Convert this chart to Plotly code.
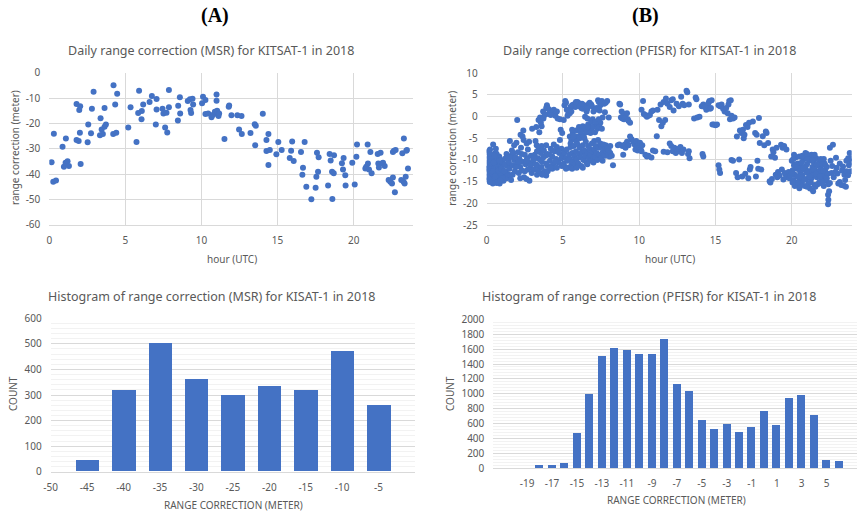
import plotly.graph_objects as go

# ---------------- data ----------------
# MSR daily range correction: (hour UTC, correction m)
msr_points = [
    (0.15,-35.3),(0.3,-24.1),(0.26,-43),(0.44,-42.6),(0.87,-29.2),(0.96,-37.1),(1.07,-35.5),(1.09,-26),
    (1.2,-35),(1.29,-36.8),(1.79,-26.6),(1.79,-12.4),(1.93,-27),(1.97,-14.7),(2.03,-13.2),(2.06,-36),
    (2.01,-23.7),(2.52,-27.5),(2.56,-20.4),(2.8,-14.2),(2.74,-23.9),(2.91,-7.5),(3.37,-18),(3.33,-24.7),
    (3.44,-22.4),(3.52,-24.2),(3.63,-13.9),(3.63,-21.3),(3.72,-20.4),(4.22,-5),(4.33,-12.6),(4.2,-24.2),
    (4.4,-23.7),(4.46,-8.3),(5.19,-21.6),(5.34,-13.6),(5.73,-27.4),(5.84,-15.9),(5.9,-7.1),(6.06,-18.4),
    (6.08,-15.1),(6.17,-12.6),(6.59,-11.6),(6.74,-9.2),(7.0,-20.4),(7.05,-14.5),(7.05,-10.4),(7.44,-14.2),
    (7.5,-16.1),(7.61,-21.6),(7.7,-15.8),(7.75,-23.6),(7.86,-6.8),(7.86,-13.6),(8.45,-18.9),(8.47,-13),
    (8.58,-9.7),(8.6,-16.1),(9.1,-11.2),(9.24,-10.5),(9.28,-14.7),(9.32,-15.9),(9.41,-10.3),(9.45,-12.6),
    (10.04,-12.1),(10.1,-9.5),(10.26,-10.8),(10.26,-16.3),(10.44,-16.1),(10.66,-17.6),(10.77,-16.6),
    (10.88,-15.4),(10.99,-8.6),(10.99,-11.1),(11.03,-15),(11.12,-17.1),(11.16,-16.1),(11.51,-26.2),
    (11.79,-13.4),(11.82,-12.9),(11.97,-16.8),(12.36,-16.8),(12.47,-22.4),(12.63,-17.1),(12.65,-24.2),
    (13.22,-23.8),(13.5,-20.3),(13.53,-28.6),(13.57,-20.9),(14.03,-16.2),(14.27,-26.6),(14.27,-30.9),
    (14.4,-24.2),(14.4,-36.4),(14.49,-30.5),(14.92,-32.2),(15.05,-27.4),(15.27,-30.5),(15.8,-33.7),
    (15.89,-30.8),(15.96,-27.2),(16.06,-34.9),(16.54,-31.3),(16.63,-40.3),(16.67,-37.5),(16.78,-27.4),
    (16.89,-45),(17.22,-50),(17.5,-45.4),(17.55,-41.1),(17.59,-31.6),(17.66,-39.1),(17.7,-33.4),
    (18.32,-44.5),(18.42,-32.1),(18.49,-34.7),(18.58,-39.1),(18.6,-49.9),(18.69,-39.7),(18.71,-32.6),
    (19.23,-35.7),(19.3,-38.2),(19.34,-33.7),(19.45,-40.5),(19.47,-44.5),(19.91,-35.5),(20.07,-44.1),
    (20.18,-33.2),(20.22,-28.3),(20.77,-37.8),(20.83,-37.1),(20.92,-28.3),(20.94,-35.8),(21.01,-38.2),
    (21.1,-31.3),(21.18,-39.7),(21.58,-32.1),(21.62,-35.8),(21.66,-37.4),(21.77,-31.6),(21.86,-35.8),
    (21.93,-35.5),(22.04,-36.8),(22.3,-42.4),(22.41,-43),(22.52,-43.7),(22.58,-41.4),(22.58,-31.3),
    (22.65,-30.8),(22.71,-47.2),(22.76,-30.5),(23.13,-42.4),(23.2,-31.8),(23.28,-43),(23.3,-26),
    (23.35,-43.7),(23.42,-41.1),(23.46,-30.8),(23.5,-30.5),(23.57,-37.8),
]

# PFISR daily range correction: (hour UTC, correction m)
pfisr_points = [
    # 0 - 1.4 h
    (0.05,-8.2),(0.08,-10.5),(0.1,-12.8),(0.12,-14.6),(0.15,-9.4),(0.18,-11.6),(0.2,-13.5),(0.22,-7.6),
    (0.25,-15.0),(0.28,-10.2),(0.3,-12.2),(0.32,-14.1),(0.35,-8.8),(0.38,-11.0),(0.4,-13.2),(0.42,-6.4),
    (0.45,-15.2),(0.48,-9.8),(0.5,-12.0),(0.52,-14.4),(0.55,-10.9),(0.58,-8.4),(0.6,-13.0),(0.62,-11.7),
    (0.65,-15.3),(0.68,-9.6),(0.7,-12.6),(0.72,-14.0),(0.75,-10.4),(0.78,-11.9),(0.8,-13.6),(0.82,-9.2),
    (0.85,-15.4),(0.88,-11.2),(0.9,-12.9),(0.92,-10.0),(0.95,-14.3),(0.98,-11.5),(1.0,-13.3),(1.03,-10.6),
    (1.06,-12.3),(1.1,-14.8),(1.13,-11.1),(1.17,-13.9),(1.2,-9.7),(1.25,-12.7),(1.3,-14.2),(1.35,-11.4),
    (0.15,-7.9),(0.3,-9.1),(0.6,-7.4),(0.7,-15.0),(0.4,-15.4),(0.2,-15.1),(1.4,-13.3),
    (0.1,-11.8),(0.25,-8.6),(0.35,-12.6),(0.45,-10.6),(0.55,-13.8),(0.65,-8.6),(0.75,-12.4),
    (0.85,-10.2),(0.95,-12.0),(1.05,-14.2),(1.15,-12.6),(0.5,-9.0),(0.9,-14.8),(1.2,-11.0),
    (0.05,-14.0),(0.05,-12.0),
    # 1.4 - 3 h
    (1.45,-10.5),(1.5,-12.0),(1.55,-13.6),(1.52,-5.6),(1.6,-9.0),(1.65,-7.8),(1.7,-11.2),(1.75,-8.4),
    (1.8,-10.0),(1.85,-12.6),(1.9,-9.4),(1.95,-6.0),(2.0,-0.8),(2.0,-11.0),(2.05,-8.2),(2.1,-13.0),
    (2.15,-9.8),(2.2,-11.6),(2.22,-4.2),(2.25,-7.2),(2.3,-12.4),(2.35,-10.4),(2.4,-3.2),(2.42,-5.4),
    (2.45,-14.0),(2.5,-8.8),(2.55,-11.0),(2.6,-14.4),(2.62,-6.2),(2.65,-9.6),(2.7,-12.2),(2.75,-10.6),
    (2.78,-5.8),(2.8,-14.8),(2.85,-11.8),(2.9,-9.0),(2.95,-13.0),(2.98,-2.8),(1.6,-14.6),(1.3,-8.6),
    (2.35,-4.6),
    (1.5,-9.4),(1.7,-13.4),(1.9,-11.6),(2.1,-10.4),(2.3,-8.6),(2.5,-12.6),(2.7,-7.6),(2.9,-11.0),
    (2.6,-10.2),(2.2,-14.2),(1.8,-6.6),
    # 3 - 5 h
    (3.05,-10.0),(3.1,-12.2),(3.15,-8.8),(3.2,-11.0),(3.25,-2.4),(3.28,-6.6),(3.3,-13.4),(3.35,-9.6),
    (3.4,-0.8),(3.42,-7.6),(3.45,-11.8),(3.5,-0.2),(3.52,-13.0),(3.55,-8.4),(3.6,-2.2),(3.62,-10.4),
    (3.7,1.2),(3.72,-0.4),(3.75,-7.8),(3.8,-12.6),(3.85,-9.0),(3.9,2.0),(3.95,2.6),(3.98,-8.6),
    (4.0,-11.4),(4.05,0.6),(4.1,1.6),(4.15,-10.2),(4.2,-7.4),(4.25,1.0),(4.3,-9.2),(4.35,-11.0),
    (4.4,1.6),(4.45,-8.0),(4.5,0.2),(4.55,-9.8),(4.6,-7.0),(4.65,-0.4),(4.7,-10.6),(4.75,-8.4),
    (4.8,-0.6),(4.85,-3.0),(4.9,-7.4),(4.92,-11.4),(4.95,-3.8),(5.0,-9.0),(3.9,-13.6),(3.65,-13.4),
    (4.3,-12.0),
    (3.1,-9.6),(3.3,-11.2),(3.5,-10.0),(3.7,-9.4),(3.9,-10.8),(4.1,-8.8),(4.3,-7.8),(4.5,-10.4),
    (4.7,-8.0),(4.9,-9.6),(3.4,-12.4),(3.6,-11.6),(4.0,-12.6),(4.2,-11.8),(4.6,-11.8),(3.3,-8.0),
    (3.6,-6.8),(3.9,-6.6),(4.4,-6.4),(4.8,-5.4),(3.2,-5.6),(3.45,-3.6),(3.55,-1.4),(3.8,0.4),
    (4.2,0.4),(4.6,1.2),(4.0,2.0),
    # 5 - 7 h upper
    (5.05,-0.8),(5.1,2.6),(5.15,3.6),(5.2,3.2),(5.3,0.2),(5.35,0.6),(5.45,0.8),(5.5,2.2),(5.6,2.6),
    (5.7,2.8),(5.8,2.2),(5.9,2.4),(5.95,3.4),(6.0,3.2),(6.1,2.4),(6.2,2.0),(6.3,1.8),(6.4,2.6),
    (6.45,0.0),(6.5,2.2),(6.55,1.2),(6.6,-0.4),(6.7,3.0),(6.75,3.2),(6.85,2.8),(6.9,2.4),(6.95,-0.6),
    (5.25,1.6),(5.55,1.2),(5.85,3.4),(6.25,3.0),(6.6,1.8),(7.0,1.2),(7.4,1.4),(7.75,1.0),
    # 5 - 7 h middle
    (5.45,-4.6),(5.55,-5.4),(5.65,-3.8),(5.75,-5.2),(5.85,-3.2),(5.95,-4.6),(6.05,-2.4),(6.1,-5.0),
    (6.2,-4.0),(6.25,-3.0),(6.35,-4.4),(6.45,-2.8),(6.55,-3.6),(6.65,-1.8),(6.75,-2.6),(6.85,-1.2),
    (6.9,-3.4),(7.0,-2.2),(7.05,-5.6),
    (5.5,-6.2),(5.7,-4.6),(5.9,-5.8),(6.15,-3.4),(6.4,-5.0),(6.6,-2.4),(6.8,-3.8),(7.1,-3.6),
    (7.2,-1.6),(7.45,-1.4),(6.3,-2.2),(5.6,-3.0),
    # 5 - 7 h lower
    (5.05,-10.8),(5.1,-8.2),(5.15,-11.6),(5.2,-9.6),(5.25,-7.6),(5.3,-10.2),(5.35,-11.8),(5.4,-8.8),
    (5.45,-9.8),(5.5,-7.0),(5.55,-11.2),(5.6,-8.4),(5.65,-10.4),(5.7,-6.8),(5.75,-9.2),(5.8,-11.0),
    (5.85,-8.0),(5.9,-9.8),(5.95,-6.4),(6.0,-10.8),(6.05,-8.6),(6.1,-7.2),(6.15,-9.4),(6.2,-11.4),
    (6.25,-8.2),(6.3,-6.6),(6.35,-10.0),(6.4,-7.8),(6.45,-9.0),(6.5,-5.8),(6.55,-10.6),(6.6,-8.4),
    (6.65,-6.8),(6.7,-9.6),(6.75,-7.4),(6.8,-8.8),(6.85,-10.2),(6.9,-6.2),(6.95,-8.0),(7.0,-9.4),
    (5.2,-12.0),(5.6,-12.0),(5.9,-11.8),(6.3,-11.8),(6.6,-11.0),(7.0,-10.6),(7.3,-9.0),(7.6,-10.2),
    (7.8,-6.6),(8.1,-6.8),
    # 7 - 9.5 h
    (7.1,1.6),(7.2,2.0),(7.3,3.8),(7.35,3.4),(7.45,2.6),(7.55,3.6),(7.6,-0.2),(7.7,3.0),(7.8,3.2),
    (7.9,3.6),(8.0,-0.2),(7.25,-2.8),(7.4,-2.4),(7.55,-2.8),(7.15,-1.2),(7.35,-0.6),
    (7.05,-7.6),(7.1,-9.2),(7.15,-6.8),(7.2,-8.4),(7.25,-10.0),(7.3,-5.4),(7.35,-7.2),(7.4,-8.8),
    (7.45,-6.2),(7.5,-9.6),(7.55,-7.0),(7.6,-8.2),(7.65,-6.4),(7.7,-8.8),(7.75,-7.6),(7.8,-9.0),
    (7.85,-8.0),(7.9,-7.4),(7.95,-8.6),(8.0,-7.8),(8.05,-9.2),(8.1,-8.4),(8.2,-9.0),(8.28,-11.2),
    (8.7,3.0),(8.75,2.8),(8.8,-0.2),(8.85,1.2),(8.9,-0.4),(8.95,0.2),(9.0,-0.6),(9.05,0.6),(9.1,-0.2),
    (9.2,0.8),(9.25,-0.6),(9.3,-1.0),(9.4,-1.4),(8.6,-6.6),(8.7,-6.4),(8.9,-6.8),(8.95,-8.8),
    (9.05,-6.4),(9.1,-7.2),(9.2,-5.8),(9.3,-6.6),(9.4,-4.6),(9.5,-5.2),
    # 9.5 - 11.2 h
    (9.6,-5.8),(9.7,-6.4),(9.75,-7.6),(9.8,-5.6),(9.85,-6.8),(9.9,-7.8),(9.95,-6.2),(10.0,-7.2),
    (10.05,-6.0),(10.1,-7.6),(10.15,-8.0),(10.2,-6.6),(10.15,1.6),(10.25,3.6),(10.3,0.6),(10.4,0.4),
    (10.5,0.0),(10.6,0.2),(10.7,0.4),(10.8,1.2),(10.9,1.4),(10.4,-8.8),(10.5,-9.2),(10.6,-9.0),
    (10.8,-9.4),(10.9,-7.8),(11.15,-4.5),(11.05,-8.0),
    # 11 - 13.3 h
    (11.2,1.6),(11.3,-0.8),(11.4,2.8),(11.45,-2.2),(11.55,-1.4),(11.6,3.4),(11.7,-0.8),(11.75,4.2),
    (11.85,3.0),(12.0,2.2),(12.1,3.8),(12.2,4.0),(12.25,1.4),(12.45,3.0),(12.6,2.4),(12.75,4.6),
    (12.85,3.0),(12.95,2.6),(13.1,6.0),(13.15,5.6),(13.25,2.8),(11.6,-8.1),(11.85,-8.2),(12.0,-6.2),
    (12.1,-6.8),(12.2,-8.0),(12.3,-7.2),(12.4,-8.4),(12.5,-8.0),(12.6,-7.4),(12.7,-7.0),(12.8,-8.4),
    (12.9,-7.6),(13.2,-8.6),(13.3,-9.6),(13.25,-8.0),
    # 13.5 - 16.3 h
    (13.6,-0.4),(13.7,4.4),(13.75,4.0),(13.8,-0.2),(13.95,0.0),(14.1,2.4),(14.2,2.8),(14.3,2.2),
    (14.4,1.6),(14.45,2.6),(14.55,3.2),(14.6,3.6),(14.65,1.8),(14.7,2.0),(14.75,3.8),(14.8,-1.8),
    (14.9,-1.8),(15.0,-2.0),(15.1,-1.8),(15.2,2.6),(15.3,2.4),(15.4,2.8),(15.5,1.8),(15.6,1.2),
    (15.7,2.0),(15.8,0.8),(15.85,2.8),(15.9,3.6),(15.95,-0.6),(16.0,3.8),(16.05,0.2),(16.15,-0.4),
    (16.25,-0.2),(14.15,-8.6),(14.2,-9.2),(15.2,-11.2),(15.25,-12.2),(15.3,-13.0),(16.05,-10.0),
    (16.15,-10.2),
    # 16.3 - 20 h
    (16.4,-4.6),(16.55,-9.9),(16.6,-3.2),(16.7,-3.8),(16.75,-13.8),(16.8,-3.0),(16.85,-5.0),(16.9,-4.2),
    (16.95,-13.2),(17.0,-1.9),(17.1,-2.4),(17.15,-14.2),(17.2,-1.4),(17.25,-12.2),(17.3,-11.6),
    (17.45,-1.1),(17.6,-3.8),(17.65,-13.8),(17.7,-4.2),(17.75,-10.2),(17.8,-12.0),(17.85,-0.3),
    (17.9,-6.1),(18.0,-12.2),(18.1,-4.5),(18.2,-6.6),(18.3,-3.4),(18.35,-3.8),(18.45,-6.1),(18.55,-14.9),
    (18.6,-15.2),(18.65,-9.2),(18.7,-14.4),(18.75,-7.6),(18.8,-8.2),(18.9,-9.5),(18.95,-13.4),(19.0,-7.2),
    (19.05,-14.0),(19.1,-12.8),(19.2,-13.6),(19.3,-6.5),(19.35,-12.2),(19.4,-7.2),(19.45,-14.5),
    (19.5,-6.8),(19.55,-13.0),(19.6,-13.4),(19.65,-7.6),(19.7,-14.0),(19.8,-12.8),(19.85,-14.2),
    (19.9,-13.6),(16.35,-13.0),(16.45,-14.0),
    # 20 - 22.4 h
    (20.0,-10.2),(20.05,-12.4),(20.1,-14.6),(20.15,-11.2),(20.2,-13.4),(20.25,-9.4),(20.3,-15.6),
    (20.35,-12.0),(20.4,-10.8),(20.45,-14.0),(20.5,-16.5),(20.5,-9.2),(20.55,-12.8),(20.6,-11.4),
    (20.65,-15.0),(20.7,-13.6),(20.75,-10.0),(20.8,-12.2),(20.85,-16.0),(20.9,-9.5),(20.95,-14.4),
    (21.0,-11.0),(21.05,-13.0),(21.1,-15.4),(21.15,-10.2),(21.2,-12.6),(21.25,-9.0),(21.3,-14.2),
    (21.35,-11.6),(21.4,-17.2),(21.4,-13.4),(21.45,-10.6),(21.5,-15.8),(21.55,-12.4),(21.6,-9.6),
    (21.65,-14.0),(21.7,-11.2),(21.75,-13.0),(21.8,-15.2),(21.85,-10.4),(21.9,-12.0),(21.95,-14.6),
    (22.0,-11.0),(22.05,-13.6),(22.1,-16.0),(22.15,-10.8),(22.2,-12.6),(22.25,-14.8),(22.3,-11.6),
    (22.35,-13.2),(22.4,-15.6),(20.3,-11.0),(20.6,-14.0),(20.9,-11.8),(21.2,-16.6),(21.5,-9.8),
    (21.8,-12.8),(22.1,-9.8),(20.0,-13.0),(20.2,-16.0),(21.0,-16.2),(20.7,-9.0),(20.15,-8.8),
    (21.3,-8.8),(20.45,-12.0),(21.1,-12.6),(21.65,-11.0),(22.0,-15.4),
    (20.1,-9.8),(20.35,-13.8),(20.55,-15.8),(20.8,-14.6),(21.05,-9.8),(21.25,-15.2),(21.45,-12.2),
    (21.7,-15.6),(21.9,-9.8),(22.2,-11.2),(20.25,-11.6),(20.65,-10.6),(21.15,-13.8),(21.6,-13.2),
    (22.05,-12.4),(22.3,-14.2),(20.4,-15.2),(20.95,-12.8),(21.35,-10.0),(21.85,-13.8),(20.75,-11.8),
    (21.55,-16.2),(20.05,-15.2),(20.9,-8.4),(21.0,-8.6),(21.5,-8.8),
    # 22.3 - 24 h
    (22.38,-18.0),(22.4,-19.2),(22.38,-20.2),(22.45,-17.2),(22.5,-15.3),(22.5,-7.2),(22.7,-6.5),
    (22.55,-10.2),(22.6,-13.0),(22.75,-14.0),(22.9,-9.5),(22.95,-11.8),(23.0,-13.1),(23.05,-15.4),
    (23.15,-10.8),(23.15,-15.1),(23.25,-15.8),(23.3,-12.4),(23.36,-11.5),(23.45,-13.4),(23.5,-14.6),
    (23.58,-10.2),(23.6,-12.6),(23.69,-13.5),(23.75,-11.2),(23.8,-8.4),(23.85,-9.6),(23.9,-10.4),
    (23.88,-12.6),(23.7,-9.6),(22.65,-11.4),(22.85,-12.8),(23.4,-15.9),(23.55,-16.2),
]

# Histogram (MSR)
msr_bins = [-50, -45, -40, -35, -30, -25, -20, -15, -10, -5]
msr_counts = [0, 45, 320, 502, 362, 300, 335, 320, 470, 260]

# Histogram (PFISR)
pfisr_bins = [-19, -18, -17, -16, -15, -14, -13, -12, -11, -10, -9, -8, -7, -6, -5, -4, -3, -2, -1,
              0, 1, 2, 3, 4, 5, 6]
pfisr_counts = [0, 40, 35, 70, 470, 995, 1500, 1610, 1580, 1530, 1525, 1730, 1125, 1035, 650, 520,
                585, 485, 555, 770, 580, 945, 980, 705, 112, 90]

# tick labels
hour_ticks = [0, 5, 10, 15, 20]
msr_yticks = [0, -10, -20, -30, -40, -50, -60]
pfisr_yticks = [10, 5, 0, -5, -10, -15, -20, -25]
msr_hist_xticks = [-50, -45, -40, -35, -30, -25, -20, -15, -10, -5]
pfisr_hist_xticks = [-19, -17, -15, -13, -11, -9, -7, -5, -3, -1, 1, 3, 5]
msr_hist_yticks = [0, 100, 200, 300, 400, 500, 600]
pfisr_hist_yticks = [0, 200, 400, 600, 800, 1000, 1200, 1400, 1600, 1800, 2000]

# ---------------- figure ----------------
W, H = 863, 516
BLUE = "#4472C4"
GRID = "#D9D9D9"
MINOR = "#F2F2F2"
TXT = "#595959"
FONT = "Noto Sans"


def fx(px):
    return px / W


def fy(py):
    return 1 - py / H


def lab(v):
    return str(v)


fig = go.Figure()
fig.add_trace(go.Scatter(x=[p[0] for p in msr_points], y=[p[1] for p in msr_points],
                         mode="markers", marker=dict(color=BLUE, size=6), xaxis="x", yaxis="y"))
fig.add_trace(go.Scatter(x=[p[0] for p in pfisr_points], y=[p[1] for p in pfisr_points],
                         mode="markers", marker=dict(color=BLUE, size=6), xaxis="x2", yaxis="y2"))
fig.add_trace(go.Bar(x=msr_bins, y=msr_counts, width=3.2, marker=dict(color=BLUE, line=dict(width=0)),
                     xaxis="x3", yaxis="y3"))
fig.add_trace(go.Bar(x=pfisr_bins, y=pfisr_counts, width=0.64, marker=dict(color=BLUE, line=dict(width=0)),
                     xaxis="x4", yaxis="y4"))

tickfont = dict(family=FONT, size=10, color=TXT)


def xax(domain, rng, vals, anchor, standoff):
    return dict(domain=domain, range=rng, tickvals=vals, ticktext=[lab(v) for v in vals],
                showgrid=True, gridcolor=GRID, gridwidth=1, zeroline=False, showline=True,
                linecolor=GRID, linewidth=1, ticks="", tickfont=tickfont, anchor=anchor,
                ticklabelstandoff=standoff, fixedrange=True, automargin=False)


def yax(domain, rng, vals, anchor, standoff, minor=None):
    d = dict(domain=domain, range=rng, tickvals=vals, ticktext=[lab(v) for v in vals],
             showgrid=True, gridcolor=GRID, gridwidth=1, zeroline=False, showline=False,
             ticks="", tickfont=tickfont, anchor=anchor, ticklabelstandoff=standoff, fixedrange=True,
             automargin=False)
    if minor is not None:
        d["minor"] = dict(dtick=minor, showgrid=True, gridcolor=MINOR, gridwidth=1, ticks="")
    return d


fig.update_layout(
    width=W, height=H, autosize=False, showlegend=False,
    margin=dict(l=0, r=0, t=0, b=0, pad=0, autoexpand=False),
    paper_bgcolor="white", plot_bgcolor="white",
    font=dict(family=FONT, color=TXT),
    xaxis=xax([fx(49.3), fx(413)], [0, 23.9], hour_ticks, "y", 6),
    yaxis=yax([fy(224.7), fy(72.7)], [-60, 0], msr_yticks, "x", 8),
    xaxis2=xax([fx(486.7), fx(851.7)], [0, 23.93], hour_ticks, "y2", 6),
    yaxis2=yax([fy(225), fy(73.3)], [-25, 10], pfisr_yticks, "x2", 8),
    xaxis3=dict(xax([fx(50.7), fx(415)], [-50, 0], msr_hist_xticks, "y3", 6), showgrid=False),
    yaxis3=yax([fy(471.7), fy(318.3)], [0, 600], msr_hist_yticks, "x3", 8, minor=20),
    xaxis4=dict(xax([fx(493.3), fx(857.3)], [-21.7, 7.45], pfisr_hist_xticks, "y4", 6), showgrid=False),
    yaxis4=yax([fy(468.3), fy(319.3)], [0, 2000], pfisr_hist_yticks, "x4", 8, minor=40),
    bargap=0,
)

ann = []


def text(t, px, py, size, angle=0, color=TXT, family=FONT, bold=False):
    ann.append(dict(text=("<b>%s</b>" % t) if bold else t, x=fx(px), y=fy(py), xref="paper", yref="paper",
                    showarrow=False, xanchor="center", yanchor="middle", textangle=angle,
                    font=dict(size=size, color=color, family=family)))


text("(A)", 215, 15, 20, color="black", family="Liberation Serif", bold=True)
text("(B)", 645, 15, 20, color="black", family="Liberation Serif", bold=True)
text("Daily range correction (MSR) for KITSAT-1 in 2018", 211, 50.7, 12.5)
text("Daily range correction (PFISR) for KITSAT-1 in 2018", 649, 50.7, 12.5)
text("Histogram of range correction (MSR) for KISAT-1 in 2018", 211, 296.7, 12.5)
text("Histogram of range correction (PFISR) for KISAT-1 in 2018", 649, 296.7, 12.5)
text("hour (UTC)", 231.7, 259, 10)
text("hour (UTC)", 670, 259, 10)
text("range correction (meter)", 15, 148, 10, angle=-90)
text("range correction (meter)", 451.7, 148, 10, angle=-90)
text("RANGE CORRECTION (METER)", 233, 505, 10)
text("RANGE CORRECTION (METER)", 676.7, 500, 10)
text("COUNT", 13, 394, 10, angle=-90)
text("COUNT", 450, 394, 10, angle=-90)
fig.update_layout(annotations=ann)

fig.write_html("out.html", config={"displayModeBar": False},
               post_script="document.body.style.margin='0px';document.body.style.overflow='hidden';")
